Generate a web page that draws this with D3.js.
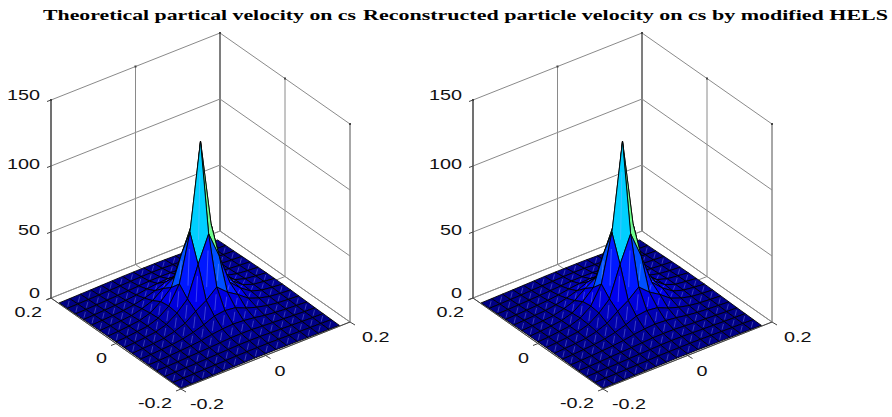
<!DOCTYPE html>
<html><head><meta charset="utf-8">
<style>html,body{margin:0;padding:0;background:#fff}svg{display:block}</style>
<script src="https://cdn.jsdelivr.net/npm/d3@7"></script></head>
<body><svg id="c" width="892" height="417"></svg>
<script>
const titles = ["Theoretical partical velocity on cs","Reconstructed particle velocity on cs by modified HELS"];
const xyTicks = [-0.2,0,0.2];
const zTicks = [0,50,100,150];
const gridXY = [-0.2,-0.175,-0.15,-0.125,-0.1,-0.075,-0.05,-0.025,0,0.025,0.05,0.075,0.1,0.125,0.15,0.175];
// rows: y = gridXY[i], columns: x = gridXY[j]
const theoreticalZ = [
[.5,.6,.7,.8,.9,1,1.1,1.2,1.2,1.2,1.1,1,.9,.8,.7,.6],
[.6,.7,.9,1,1.2,1.4,1.6,1.7,1.7,1.7,1.6,1.4,1.2,1,.9,.7],
[.7,.9,1.1,1.3,1.6,1.9,2.2,2.5,2.6,2.5,2.2,1.9,1.6,1.3,1.1,.9],
[.8,1,1.3,1.7,2.1,2.5,3,3.5,3.6,3.5,3,2.5,2.1,1.7,1.3,1],
[.9,1.2,1.6,2.1,2.7,3.6,5,6,6.5,6,5,3.6,2.7,2.1,1.6,1.2],
[1,1.4,1.9,2.5,3.6,5.5,8,11.5,12.5,11.5,8,5.5,3.6,2.5,1.9,1.4],
[1.1,1.6,2.2,3,5,8,14,19,26,19,14,8,5,3,2.2,1.6],
[1.2,1.7,2.5,3.5,6,11.5,19,42,62,42,19,11.5,6,3.5,2.5,1.7],
[1.2,1.7,2.6,3.6,6.5,12.5,26,62,128,62,26,12.5,6.5,3.6,2.6,1.7],
[1.2,1.7,2.5,3.5,6,11.5,19,42,62,42,19,11.5,6,3.5,2.5,1.7],
[1.1,1.6,2.2,3,5,8,14,19,26,19,14,8,5,3,2.2,1.6],
[1,1.4,1.9,2.5,3.6,5.5,8,11.5,12.5,11.5,8,5.5,3.6,2.5,1.9,1.4],
[.9,1.2,1.6,2.1,2.7,3.6,5,6,6.5,6,5,3.6,2.7,2.1,1.6,1.2],
[.8,1,1.3,1.7,2.1,2.5,3,3.5,3.6,3.5,3,2.5,2.1,1.7,1.3,1],
[.7,.9,1.1,1.3,1.6,1.9,2.2,2.5,2.6,2.5,2.2,1.9,1.6,1.3,1.1,.9],
[.6,.7,.9,1,1.2,1.4,1.6,1.7,1.7,1.7,1.6,1.4,1.2,1,.9,.7]
];
// The two panels cannot be told apart in the picture.
const reconstructedZ = theoreticalZ.map(r => r.slice());

const svg = d3.select("#c");
const FRONT=[181,389], XV=[169,-67], YV=[-130,-91];
const fx = d3.scaleLinear().domain([-0.2,0.2]).range([0,1]);
const fy = d3.scaleLinear().domain([-0.2,0.2]).range([0,1]);
const fz = d3.scaleLinear().domain([0,150]).range([0,198]);
const P = (x,y,z=0)=>[FRONT[0]+fx(x)*XV[0]+fy(y)*YV[0], FRONT[1]+fx(x)*XV[1]+fy(y)*YV[1]-fz(z)];
const jet = t=>{const c=v=>Math.round(255*Math.max(0,Math.min(1,v)));
  return `rgb(${c(Math.min(4*t-1.5,-4*t+4.5))},${c(Math.min(4*t-0.5,-4*t+3.5))},${c(Math.min(4*t+0.5,-4*t+2.5))})`;};
const color = d3.scaleLinear().domain([0,128]).range([0,1]).clamp(true);

function panel(dx,Z){
  const g=svg.append("g").attr("transform",`translate(${dx},0)`);
  const seg=(a,b,col,w)=>g.append("line").attr("x1",a[0]).attr("y1",a[1]).attr("x2",b[0]).attr("y2",b[1]).attr("stroke",col).attr("stroke-width",w);
  const GR="#8a8a8a";
  xyTicks.forEach(v=>{
    seg(P(v,0.2,0),P(v,0.2,150),v===0.2?"#555":GR,1);
    seg(P(0.2,v,0),P(0.2,v,150),v===0.2?"#555":GR,1);
    seg(P(v,-0.2),P(v,0.2),GR,1);
    seg(P(-0.2,v),P(0.2,v),GR,1);
  });
  zTicks.forEach(z=>{
    seg(P(-0.2,0.2,z),P(0.2,0.2,z),GR,1);
    seg(P(0.2,0.2,z),P(0.2,-0.2,z),GR,1);
  });
  seg(P(0.2,-0.2,0),P(0.2,-0.2,150),GR,1);
  xyTicks.forEach(v=>{
    const a=P(v,0.2,150),b=P(0.2,v,150);
    g.append("rect").attr("x",a[0]-1).attr("y",a[1]-1).attr("width",2).attr("height",2).attr("fill","#444");
    g.append("rect").attr("x",b[0]-1).attr("y",b[1]-1).attr("width",2).attr("height",2).attr("fill","#444");
  });
  const cells=[];
  for(let i=0;i<gridXY.length-1;i++)for(let j=0;j<gridXY.length-1;j++)cells.push({i,j});
  cells.sort((a,b)=>(b.i+b.j)-(a.i+a.j));
  const node=(i,j)=>P(gridXY[j],gridXY[i],Z[i][j]);
  cells.forEach(({i,j})=>{
    const pts=[node(i,j),node(i,j+1),node(i+1,j+1),node(i+1,j)];
    const fill=jet(color(Z[i][j]));
    g.append("path").attr("d",d3.line()(pts)+"Z").attr("fill",fill).attr("stroke","#000").attr("stroke-width",0.9).attr("stroke-linejoin","round");
    const a=pts[0],b=pts[2],m=d3.interpolateNumber;
    g.append("line").attr("x1",m(a[0],b[0])(.2)).attr("y1",m(a[1],b[1])(.2)).attr("x2",m(a[0],b[0])(.75)).attr("y2",m(a[1],b[1])(.75))
      .attr("stroke","#a6b0ff").attr("stroke-opacity",.6).attr("stroke-width",.6);
  });
  const AX="#444";
  seg(P(-0.2,0.2,0),P(-0.2,0.2,150),AX,1.3);
  seg(P(-0.2,0.2,0),P(-0.2,-0.2,0),AX,1);
  seg(P(-0.2,-0.2,0),P(0.2,-0.2,0),AX,1);
  const label=(t,x,y,anchor)=>g.append("text").attr("transform",`translate(${x},${y}) scale(1.32,1)`)
     .attr("text-anchor",anchor).attr("font-family","Liberation Sans").attr("font-size",15).attr("fill","#111").text(t);
  zTicks.forEach(z=>{const p=P(-0.2,0.2,z);seg(p,[p[0]-4,p[1]+1.5],AX,1);label(String(z),p[0]-11,p[1]+(z===0||z===150?0:3),"end");});
  xyTicks.forEach(v=>{
    const p=P(-0.2,v,0);seg(p,[p[0]-5,p[1]+2],AX,1);label(String(v),p[0]-9,p[1]+19,"end");
    const q=P(v,-0.2,0);seg(q,[q[0]+5,q[1]+3],AX,1);label(String(v),q[0]+(v===0.2?12:9),q[1]+20,"start");
  });
}
panel(0,theoreticalZ);
panel(422,reconstructedZ);
svg.selectAll("text.t").data(titles).enter().append("text").attr("class","t")
  .attr("x",(d,i)=>i?363:43).attr("y",20).attr("textLength",(d,i)=>i?525:313).attr("lengthAdjust","spacingAndGlyphs")
  .attr("font-family","Liberation Serif").attr("font-weight","bold").attr("font-size",15.5).attr("fill","#000").text(d=>d);
</script></body></html>
